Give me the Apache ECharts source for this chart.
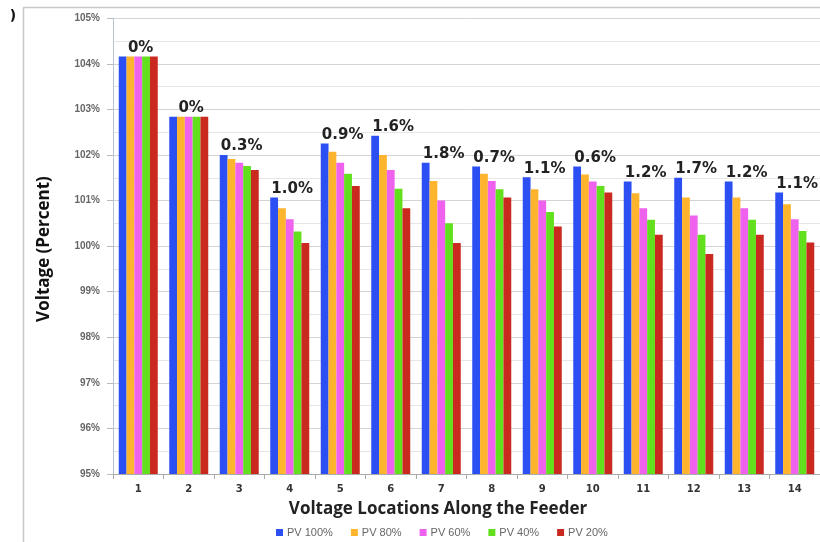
<!DOCTYPE html>
<html>
<head>
<meta charset="utf-8">
<script src="https://cdn.jsdelivr.net/npm/echarts@6/dist/echarts.min.js"></script>
<style>
  html, body { margin: 0; padding: 0; background: #fff; }
  #chart { width: 820px; height: 542px; }
</style>
</head>
<body>
<div id="chart"></div>
<script>
// Voltage at feeder locations for different PV penetration levels
const categories = ['1','2','3','4','5','6','7','8','9','10','11','12','13','14'];
const seriesNames = ['PV 100%', 'PV 80%', 'PV 60%', 'PV 40%', 'PV 20%'];
const pv100 = [104.16, 102.84, 102.00, 101.07, 102.25, 102.42, 101.83, 101.75, 101.51, 101.75, 101.42, 101.50, 101.42, 101.18];
const pv80  = [104.16, 102.84, 101.91, 100.83, 102.07, 102.00, 101.43, 101.59, 101.25, 101.57, 101.16, 101.07, 101.07, 100.92];
const pv60  = [104.16, 102.84, 101.83, 100.59, 101.83, 101.67, 101.00, 101.43, 101.00, 101.42, 100.83, 100.67, 100.83, 100.59];
const pv40  = [104.16, 102.84, 101.76, 100.32, 101.59, 101.26, 100.50, 101.25, 100.75, 101.32, 100.58, 100.25, 100.58, 100.33];
const pv20  = [104.16, 102.84, 101.67, 100.07, 101.32, 100.83, 100.07, 101.07, 100.43, 101.18, 100.25, 99.83, 100.25, 100.08];
// Voltage spread between PV 100% and PV 20% at each location
const spreadLabels = ['0%','0%','0.3%','1.0%','0.9%','1.6%','1.8%','0.7%','1.1%','0.6%','1.2%','1.7%','1.2%','1.1%'];
const yTicks = { min: 95, max: 105, step: 1 };

const colors = ['#2b4ff2', '#ffb42e', '#ee62ee', '#62e01e', '#c9291f'];
const allValues = [pv100, pv80, pv60, pv40, pv20];

const chart = echarts.init(document.getElementById('chart'), null, { renderer: 'canvas' });

const series = allValues.map((vals, i) => {
  const s = {
    name: seriesNames[i],
    type: 'bar',
    data: vals,
    barWidth: 7.8,
    barGap: '0%',
    itemStyle: { color: colors[i] },
    emphasis: { disabled: true },
    z: 3
  };
  if (i === 0) {
    s.label = {
      show: true,
      position: 'top',
      distance: 1,
      offset: [18, 0],
      formatter: p => spreadLabels[p.dataIndex],
      fontFamily: 'DejaVu Sans',
      fontWeight: 'bold',
      fontSize: 15,
      color: '#222'
    };
  }
  return s;
});

chart.setOption({
  animation: false,
  backgroundColor: '#fff',
  grid: { left: 113, top: 18.3, width: 711, bottom: 68, containLabel: false },
  legend: {
    data: seriesNames,
    left: 271,
    top: 522,
    icon: 'rect',
    itemWidth: 7,
    itemHeight: 7,
    itemGap: 18,
    textStyle: { fontFamily: 'Liberation Sans', fontSize: 11, color: '#666', padding: [0, 0, 0, -1] }
  },
  xAxis: {
    type: 'category',
    data: categories,
    axisLine: { show: true, lineStyle: { color: '#aaa', width: 1 } },
    axisTick: { show: true, length: 5, lineStyle: { color: '#aaa' } },
    axisLabel: {
      margin: 10,
      fontFamily: 'DejaVu Sans',
      fontWeight: 'bold',
      fontSize: 10,
      color: '#333'
    },
    splitLine: { show: false }
  },
  yAxis: {
    type: 'value',
    min: yTicks.min,
    max: yTicks.max,
    interval: yTicks.step,
    axisLine: { show: true, lineStyle: { color: '#b9c2d2', width: 1 } },
    axisTick: { show: true, length: 6, lineStyle: { color: '#bbb' } },
    axisLabel: {
      formatter: '{value}%',
      margin: 13,
      fontFamily: 'Liberation Sans',
      fontWeight: 'bold',
      fontSize: 10,
      color: '#666'
    },
    splitLine: { show: true, lineStyle: { color: '#d4d4d4', width: 1 } },
    minorTick: { show: false, splitNumber: 2 },
    minorSplitLine: { show: true, lineStyle: { color: '#e6e6e6', width: 1 } }
  },
  graphic: [
    {
      type: 'rect',
      shape: { x: 23.5, y: 7.5, width: 820, height: 560 },
      style: { fill: 'none', stroke: '#c8c8c8', lineWidth: 1.5 },
      z: 0
    },
    {
      type: 'text',
      x: 13, y: 16,
      style: { text: ')', font: 'bold 14px DejaVu Sans', fill: '#111', textAlign: 'center', textVerticalAlign: 'middle' }
    },
    {
      type: 'text',
      x: 44, y: 249,
      rotation: Math.PI / 2,
      style: { text: 'Voltage (Percent)', font: 'bold 17px "Open Sans"', fill: '#111', textAlign: 'center', textVerticalAlign: 'middle' }
    },
    {
      type: 'text',
      x: 438, y: 509,
      style: { text: 'Voltage Locations Along the Feeder', font: 'bold 17px "Open Sans"', fill: '#222', textAlign: 'center', textVerticalAlign: 'middle' }
    }
  ],
  series: series
});
</script>
</body>
</html>
